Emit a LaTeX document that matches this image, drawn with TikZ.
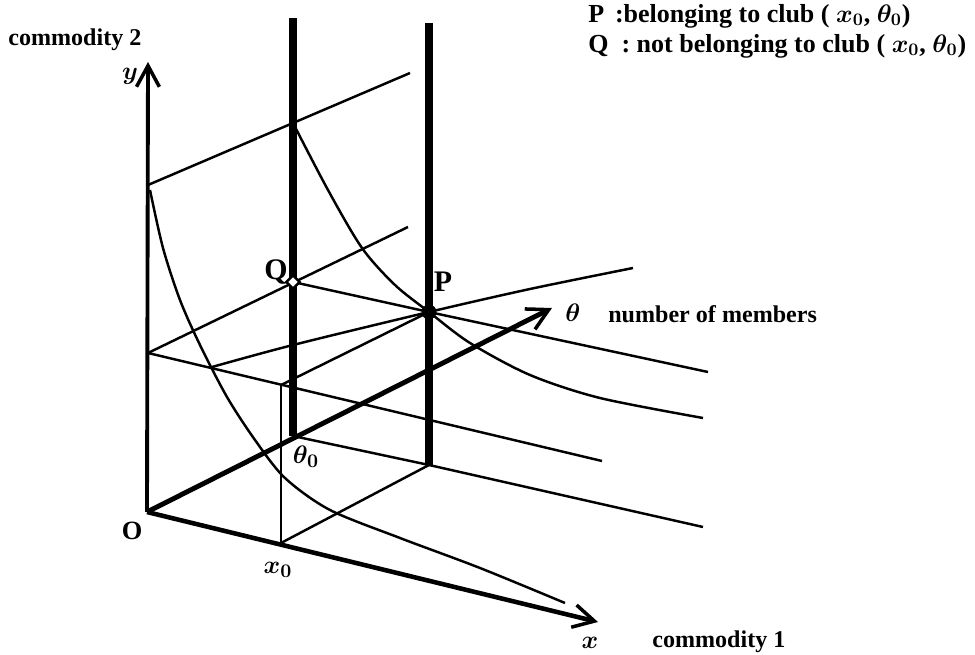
\documentclass[tikz,border=0pt]{standalone}
\usepackage{fontspec}
\setmainfont{Liberation Serif}
\usetikzlibrary{arrows.meta,shapes.geometric}
\begin{document}
\begin{tikzpicture}[x=0.02cm,y=-0.02cm,
  thinl/.style={line width=1.4pt},
  axisl/.style={-{Straight Barb[length=12pt,width=13pt,line width=2pt]}},
  barl/.style={line width=4.3pt},
  lbl/.style={font=\fontsize{13.7}{16}\selectfont\bfseries\boldmath, inner sep=0pt},
  leglbl/.style={font=\fontsize{14.8}{17}\selectfont\bfseries\boldmath, inner sep=0pt},
  mlbl/.style={font=\fontsize{15}{17}\selectfont\bfseries\boldmath, inner sep=0pt},
  ]
\useasboundingbox (0,0) rectangle (975,655);
% coordinates
\coordinate (O) at (147,512);
\coordinate (ytip) at (148,62);
\coordinate (xtip) at (598,622);
\coordinate (ttip) at (552,308);
\coordinate (x0) at (281,543);
\coordinate (t0) at (293,436);
\coordinate (b2) at (429,465);
\coordinate (b1top) at (293,18);
\coordinate (b2top) at (429,23);
\coordinate (Y1) at (148,353);
\coordinate (Y2) at (148,185);
\coordinate (Q) at (293,282);
\coordinate (P) at (429,312);
\coordinate (xy1) at (281,385);
\coordinate (topend) at (410,73);
\coordinate (qend) at (408,227);
\coordinate (bend) at (602,461);
\coordinate (pqend) at (708,372);
\coordinate (t0end) at (703,527);
% thin lines
\draw[thinl] (Y2) -- (topend);
\draw[thinl] (Y1) -- (qend);
\draw[thinl] (Y1) -- (bend);
\draw[thinl] (Q) -- (P) -- (pqend);
\draw[thinl] (xy1) -- (P);
\draw[thinl] (x0) -- (xy1);
\draw[thinl] (x0) -- (b2);
\draw[thinl] (t0) -- (b2) -- (t0end);
% indifference curves
\draw[thinl] plot[smooth] coordinates {(293,123) (328,190) (362,248) (395,285) (429,312) (470,343) (530,375) (600,398) (703,418)};
\draw[thinl] plot[smooth] coordinates {(150,190) (163,248) (180,300) (200,345) (227,397) (255,440) (285,478) (330,510) (400,538) (480,568) (565,603)};
\draw[thinl] plot[smooth] coordinates {(212,367) (293,345) (429,312) (530,289) (633,268)};
% bars
\draw[barl] (t0) -- (b1top);
\draw[barl] (b2) -- (b2top);
% axes
\draw[axisl, line width=2.2pt] (O) -- (ytip);
\draw[axisl, line width=2.6pt] (O) -- (xtip);
\draw[axisl, line width=2.8pt] (O) -- (ttip);
% markers
\node (Qm) at (Q) [diamond, draw, fill=white, line width=1.4pt, inner sep=0pt, minimum width=8pt, minimum height=8pt] {};
\node (Pm) at (P) [circle, fill=black, inner sep=0pt, minimum size=8.5pt] {};
% labels
\node[lbl, anchor=west] (c2) at (8,40) {commodity 2};
\node[mlbl] (ylab) at (130,76) {$y$};
\node[mlbl] (Olab) at (132,531) {O};
\node[mlbl] (xlab) at (590,643) {$x$};
\node[lbl, anchor=west] (c1) at (652,642) {commodity 1};
\node[mlbl] (tlab) at (573,313) {$\theta$};
\node[lbl, anchor=west] (nm) at (608,314) {number of members};
\node[mlbl] (x0lab) at (278,570) {$x_0$};
\node[mlbl] (t0lab) at (306,457) {$\theta_0$};
\node[mlbl, font=\fontsize{17}{19}\selectfont\bfseries] (Qlab) at (276,272) {Q};
\node[mlbl, font=\fontsize{17}{19}\selectfont\bfseries] (Plab) at (443,282) {P};
\node[leglbl, anchor=west] (leg1) at (588,16) {P\ \,:belonging to club ( $x_0$, $\theta_0$)};
\node[leglbl, anchor=west] (leg2) at (588,46) {Q \ : not belonging to club ( $x_0$, $\theta_0$)};
\end{tikzpicture}
\end{document}
